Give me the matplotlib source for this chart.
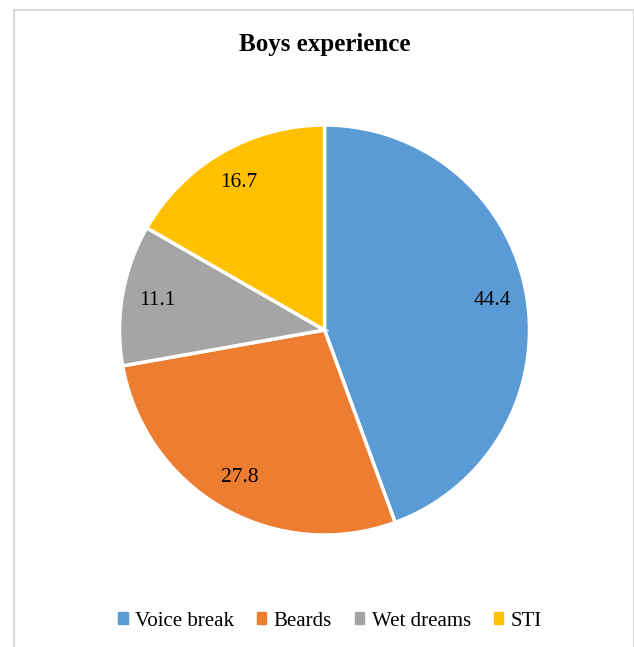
import matplotlib.pyplot as plt
import matplotlib.patches as mpatches

# data
labels = ["Voice break", "Beards", "Wet dreams", "STI"]
values = [44.4, 27.8, 11.1, 16.7]
colors = ["#5B9BD5", "#ED7D31", "#A5A5A5", "#FFC000"]

plt.rcParams['font.family'] = ['Liberation Serif', 'DejaVu Serif']

W, H = 634, 647
fig = plt.figure(figsize=(W / 100, H / 100), dpi=100)

# light grey chart frame
frame = mpatches.Rectangle((14 / W, -0.05), (W - 14.5) / W, 1.05 - 9.5 / H,
                           transform=fig.transFigure, fill=False,
                           edgecolor="#d9d9d9", linewidth=1.5)
fig.patches.append(frame)

cx, cy, r = 324.5, 330, 205
ax = fig.add_axes([(cx - r) / W, 1 - (cy + r) / H, 2 * r / W, 2 * r / H])
wedges, texts = ax.pie(values, colors=colors, startangle=90, counterclock=False,
                       labels=[f"{v:.1f}" for v in values], labeldistance=0.83,
                       wedgeprops=dict(edgecolor="white", linewidth=2.5),
                       textprops=dict(fontsize=15.5, color="black"))
for t in texts:
    t.set_horizontalalignment("center")
ax.set_xlim(-1, 1)
ax.set_ylim(-1, 1)
ax.set_aspect("equal")

fig.text(cx / W, 1 - 45 / H, "Boys experience", ha="center", va="center",
         fontsize=18, fontweight="bold")

handles = [mpatches.Patch(color=c) for c in colors]
fig.legend(handles, labels, loc="center", bbox_to_anchor=(330 / W, 1 - 621 / H),
           ncol=4, frameon=False, fontsize=15, handlelength=0.45, handleheight=0.45,
           handletextpad=0.35, columnspacing=1.1)

fig.savefig("out.png", dpi=100, facecolor="white")
